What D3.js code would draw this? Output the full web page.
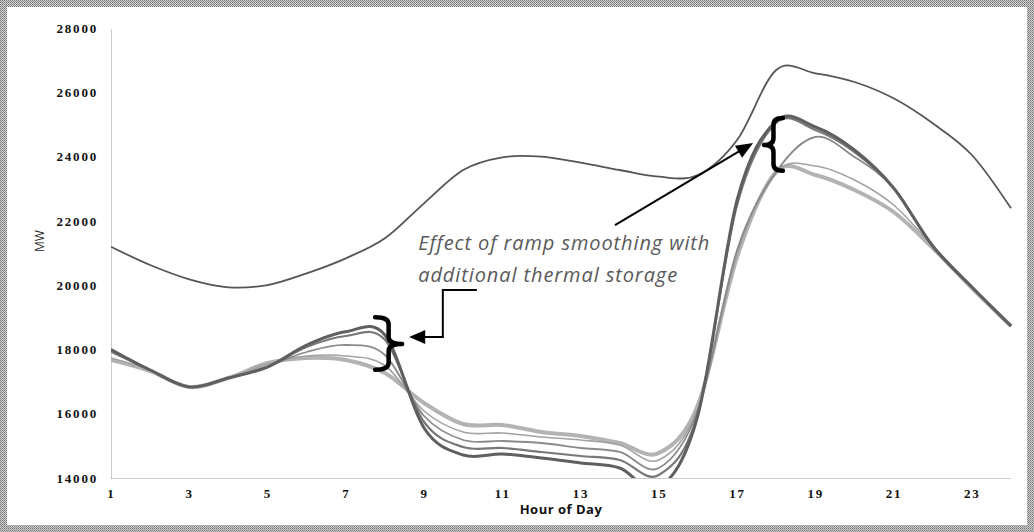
<!DOCTYPE html>
<html>
<head>
<meta charset="utf-8">
<script src="https://cdn.jsdelivr.net/npm/d3@7"></script>
<style>
  body { margin: 0; background: #fff; }
  svg { display: block; }
</style>
</head>
<body>
<svg id="chart" width="1034" height="532"></svg>
<script>
// Hour of day (categories)
const hours = [1, 2, 3, 4, 5, 6, 7, 8, 9, 10, 11, 12, 13, 14, 15, 16, 17, 18, 19, 20, 21, 22, 23, 24];

// Gross load, MW
const grossLoad = [21196, 20626, 20182, 19933, 20004, 20368, 20835, 21457, 22546, 23582, 23977, 23996,
                   23809, 23582, 23373, 23426, 24515, 26693, 26590, 26320, 25812, 25035, 24049, 22390];

// Net load, MW, without thermal storage and with increasing amounts of storage
const netLoadBase = [17982, 17360, 16831, 17111, 17453, 18138, 18551, 18450, 15556, 14716, 14747, 14622,
                     14467, 14311, 13689, 15960, 22649, 25106, 24920, 24204, 23022, 21218, 19942, 18729];
const netLoadStorage1 = [18013, 17360, 16831, 17111, 17453, 18075, 18418, 18300, 15742, 14964, 14933, 14809,
                         14684, 14560, 14093, 16022, 22493, 25044, 24827, 24142, 23022, 21218, 19942, 18729];
const netLoadStorage2 = [17920, 17360, 16831, 17111, 17484, 17920, 18138, 17827, 15929, 15182, 15151, 15089,
                         14933, 14809, 14311, 16115, 21093, 23520, 24609, 23987, 23022, 21218, 19942, 18729];
const netLoadStorage3 = [17733, 17360, 16831, 17111, 17547, 17795, 17795, 17500, 16084, 15431, 15400, 15276,
                         15182, 15027, 14560, 16178, 20969, 23520, 23708, 23271, 22493, 21218, 19942, 18729];
const netLoadStorage4 = [17671, 17329, 16831, 17111, 17578, 17733, 17671, 17267, 16333, 15680, 15649, 15431,
                         15307, 15089, 14778, 16271, 20875, 23520, 23427, 22960, 22275, 21155, 19911, 18729];

// Axis ticks
const xTicks = [1, 3, 5, 7, 9, 11, 13, 15, 17, 19, 21, 23];
const yTicks = [14000, 16000, 18000, 20000, 22000, 24000, 26000, 28000];

const annotationLines = ["Effect of ramp smoothing with", "additional thermal storage"];

const svg = d3.select("#chart");
const W = 1034, H = 532;

// Dithered frame around the figure
const defs = svg.append("defs");
const pat = defs.append("pattern").attr("id", "dither")
  .attr("width", 2).attr("height", 2).attr("patternUnits", "userSpaceOnUse");
pat.append("rect").attr("width", 2).attr("height", 2).attr("fill", "#cfcfcf");
pat.append("rect").attr("width", 1).attr("height", 1).attr("fill", "#777");
pat.append("rect").attr("x", 1).attr("y", 1).attr("width", 1).attr("height", 1).attr("fill", "#939393");

svg.append("rect").attr("width", W).attr("height", H).attr("fill", "url(#dither)");
svg.append("rect").attr("x", 7).attr("y", 7).attr("width", W - 14).attr("height", H - 14).attr("fill", "#fff");

const x = d3.scaleLinear().domain([1, 24]).range([111, 1011]);
const y = d3.scaleLinear().domain([14000, 28000]).range([478, 28]);

defs.append("clipPath").attr("id", "plotClip")
  .append("rect").attr("x", x(1)).attr("y", y(28000) - 10)
  .attr("width", x(24) - x(1) + 4).attr("height", y(14000) - y(28000) + 10);

// Axes
const yAxis = svg.append("g").attr("transform", `translate(${x(1)},0)`)
  .call(d3.axisLeft(y).tickValues(yTicks).tickSize(0).tickPadding(13).tickFormat(d3.format("d")));
const xAxis = svg.append("g").attr("transform", `translate(0,${y(14000)})`)
  .call(d3.axisBottom(x).tickValues(xTicks).tickSize(0).tickPadding(11).tickFormat(d3.format("d")));

[yAxis, xAxis].forEach(g => {
  g.select(".domain").attr("stroke", "#9a9a9a").attr("stroke-width", 1).attr("stroke-dasharray", "1,1");
  g.selectAll("text")
    .attr("font-family", "'Liberation Serif', serif")
    .attr("font-weight", "bold")
    .attr("font-size", 13)
    .attr("letter-spacing", "1.8px")
    .attr("fill", "#111");
});

svg.append("text")
  .attr("x", (x(1) + x(24)) / 2).attr("y", 514)
  .attr("text-anchor", "middle")
  .attr("font-family", "'Open Sans', sans-serif").attr("font-weight", "bold")
  .attr("font-size", 13).attr("letter-spacing", "0.5px").attr("fill", "#111")
  .text("Hour of Day");

svg.append("text")
  .attr("transform", `translate(44,${(y(14000) + y(28000)) / 2 - 12}) rotate(-90)`)
  .attr("text-anchor", "middle")
  .attr("font-family", "'Open Sans', sans-serif")
  .attr("font-size", 12).attr("fill", "#222")
  .text("MW");

// Series
const line = d3.line()
  .x((d, i) => x(hours[i]))
  .y(d => y(d))
  .curve(d3.curveCardinal.tension(0));

const series = [
  { values: netLoadStorage4, color: "#b3b3b3", width: 4 },
  { values: netLoadStorage3, color: "#a2a2a2", width: 1.6 },
  { values: netLoadStorage2, color: "#8a8a8a", width: 1.8 },
  { values: netLoadStorage1, color: "#777777", width: 2.2 },
  { values: netLoadBase,     color: "#5f5f5f", width: 3 },
  { values: grossLoad,       color: "#555555", width: 1.8 }
];

const plot = svg.append("g").attr("clip-path", "url(#plotClip)");
plot.selectAll("path.series").data(series).join("path")
  .attr("class", "series")
  .attr("fill", "none")
  .attr("stroke", d => d.color)
  .attr("stroke-width", d => d.width)
  .attr("stroke-linejoin", "round")
  .attr("d", d => line(d.values));

// Annotations, placed in data units
const ann = svg.append("g");

function bracePath(xa, xb, y0, y1, ym) {
  const xm = (xa + xb) / 2, r = 7;
  return `M${xa},${y0} Q${xm},${y0} ${xm},${y0 + r} L${xm},${ym - r} Q${xm},${ym} ${xb},${ym}` +
         ` Q${xm},${ym} ${xm},${ym + r} L${xm},${y1 - r} Q${xm},${y1} ${xa},${y1}`;
}

// Brace at the morning peak
ann.append("path")
  .attr("d", bracePath(x(7.75), x(8.44), y(19000), y(17370), y(18170)))
  .attr("fill", "none").attr("stroke", "#000").attr("stroke-width", 4.5)
  .attr("stroke-linecap", "round").attr("stroke-linejoin", "round");

// Brace at the evening peak
ann.append("path")
  .attr("d", bracePath(x(18.17), x(17.69), y(25200), y(23560), y(24360)))
  .attr("fill", "none").attr("stroke", "#000").attr("stroke-width", 4.5)
  .attr("stroke-linecap", "round").attr("stroke-linejoin", "round");

function arrowHead(tipX, tipY, fromX, fromY, len, half) {
  const a = Math.atan2(tipY - fromY, tipX - fromX);
  const bx = tipX - len * Math.cos(a), by = tipY - len * Math.sin(a);
  const px = -Math.sin(a) * half, py = Math.cos(a) * half;
  return `M${tipX},${tipY} L${bx + px},${by + py} L${bx - px},${by - py} Z`;
}

// Elbow arrow pointing at the morning brace
const elbow = [[10.35, 19850], [9.48, 19850], [9.48, 18390], [8.95, 18390]];
ann.append("path")
  .attr("d", d3.line().x(d => x(d[0])).y(d => y(d[1]))(elbow))
  .attr("fill", "none").attr("stroke", "#000").attr("stroke-width", 2);
ann.append("path")
  .attr("d", arrowHead(x(8.62), y(18390), x(9.48), y(18390), 16, 7))
  .attr("fill", "#000");

// Straight arrow pointing at the evening brace
const diagFrom = [13.88, 21870], diagTip = [17.41, 24420];
const tipX = x(diagTip[0]), tipY = y(diagTip[1]);
const fromX = x(diagFrom[0]), fromY = y(diagFrom[1]);
const ang = Math.atan2(tipY - fromY, tipX - fromX);
ann.append("line")
  .attr("x1", fromX).attr("y1", fromY)
  .attr("x2", tipX - 14 * Math.cos(ang)).attr("y2", tipY - 14 * Math.sin(ang))
  .attr("stroke", "#000").attr("stroke-width", 2);
ann.append("path")
  .attr("d", arrowHead(tipX, tipY, fromX, fromY, 17, 7))
  .attr("fill", "#000");

// Annotation text
const txt = ann.append("text")
  .attr("font-family", "'Open Sans', sans-serif")
  .attr("font-style", "italic")
  .attr("font-size", 20)
  .attr("letter-spacing", "0.9px")
  .attr("fill", "#595959");
annotationLines.forEach((s, i) => {
  txt.append("tspan").attr("x", x(8.85)).attr("y", y(i === 0 ? 21093 : 20098)).text(s);
});
</script>
</body>
</html>
